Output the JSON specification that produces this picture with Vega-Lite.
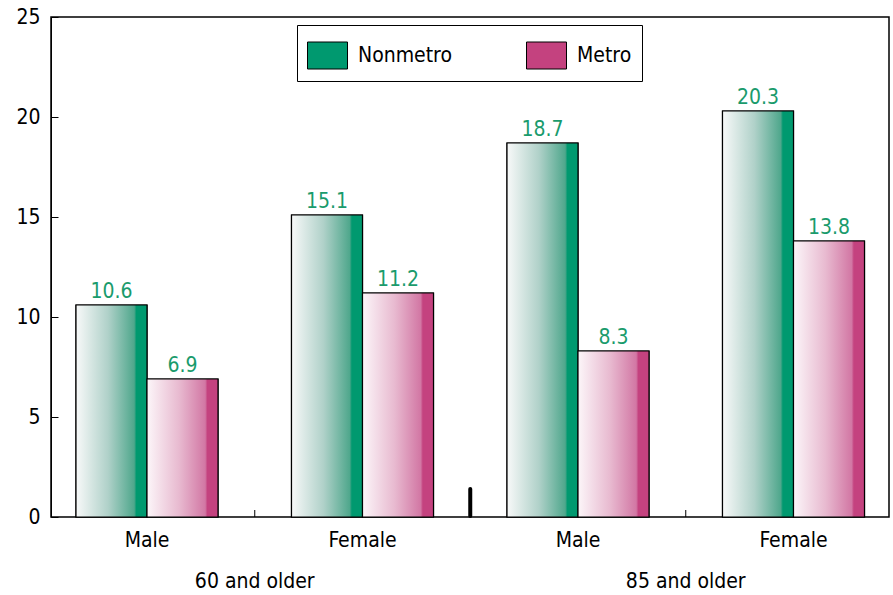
{
  "$schema": "https://vega.github.io/schema/vega-lite/v6.json",
  "width": 838,
  "height": 500,
  "autosize": {"type": "none"},
  "padding": {"left": 51, "top": 17, "right": 4, "bottom": 78},
  "background": "white",
  "config": {
    "font": "DejaVu Sans Condensed",
    "view": {"stroke": "black", "strokeWidth": 1.5},
    "axis": {"labelFont": "DejaVu Sans Condensed", "labelFontSize": 21, "labelColor": "black"}
  },
  "datasets": {
    "rates": [
      {"grp": "60 and older|Male", "series": "Nonmetro", "value": 10.6},
      {"grp": "60 and older|Male", "series": "Metro", "value": 6.9},
      {"grp": "60 and older|Female", "series": "Nonmetro", "value": 15.1},
      {"grp": "60 and older|Female", "series": "Metro", "value": 11.2},
      {"grp": "85 and older|Male", "series": "Nonmetro", "value": 18.7},
      {"grp": "85 and older|Male", "series": "Metro", "value": 8.3},
      {"grp": "85 and older|Female", "series": "Nonmetro", "value": 20.3},
      {"grp": "85 and older|Female", "series": "Metro", "value": 13.8}
    ]
  },
  "encoding": {
    "x": {
      "field": "grp",
      "type": "nominal",
      "scale": {
        "domain": ["60 and older|Male", "60 and older|Female", "85 and older|Male", "85 and older|Female"],
        "range": [-11.75, 850.25],
        "paddingInner": 0,
        "paddingOuter": 0
      },
      "axis": {
        "title": null,
        "domain": false,
        "ticks": false,
        "labelAngle": 0,
        "labelPadding": 12,
        "labelExpr": "split(datum.label, '|')[1]"
      }
    },
    "xOffset": {
      "field": "series",
      "type": "nominal",
      "scale": {"domain": ["Nonmetro", "Metro"], "paddingInner": 0, "paddingOuter": 0.5176}
    }
  },
  "layer": [
    {
      "data": {"name": "rates"},
      "mark": {"type": "bar", "stroke": "black", "strokeWidth": 1.2},
      "encoding": {
        "y": {
          "field": "value",
          "type": "quantitative",
          "scale": {"domain": [0, 25], "nice": false},
          "axis": {
            "title": null,
            "values": [0, 5, 10, 15, 20, 25],
            "grid": false,
            "tickSize": -7,
            "tickColor": "black",
            "domainColor": "black",
            "labelPadding": 18
          }
        },
        "fill": {
          "field": "series",
          "type": "nominal",
          "scale": {"domain": ["Nonmetro", "Metro"], "range": ["#00996f", "#c4427f"]},
          "legend": {
            "title": null,
            "orient": "none",
            "legendX": 246,
            "legendY": 8,
            "direction": "horizontal",
            "strokeColor": "black",
            "padding": 10,
            "columnPadding": 72,
            "symbolType": "M-1,-0.675H1V0.675H-1Z",
            "symbolSize": 1600,
            "symbolStrokeColor": "black",
            "symbolStrokeWidth": 1,
            "symbolOpacity": 1,
            "labelFont": "DejaVu Sans Condensed",
            "labelFontSize": 21,
            "labelColor": "black",
            "labelOffset": 10
          }
        }
      }
    },
    {
      "data": {"name": "rates"},
      "mark": {"type": "bar", "stroke": "black", "strokeWidth": 1.2},
      "encoding": {
        "y": {"field": "value", "type": "quantitative"},
        "fill": {
          "condition": {
            "test": "datum.series === 'Nonmetro'",
            "value": {"gradient": "linear", "x1": 0, "y1": 0, "x2": 1, "y2": 0, "stops": [
              {"offset": 0, "color": "#f8f9f9"},
              {"offset": 0.45, "color": "#b0d1c9"},
              {"offset": 0.82, "color": "#4fa78c"},
              {"offset": 0.85, "color": "#00996f"},
              {"offset": 1, "color": "#00996f"}
            ]}
          },
          "value": {"gradient": "linear", "x1": 0, "y1": 0, "x2": 1, "y2": 0, "stops": [
            {"offset": 0, "color": "#fcf6f9"},
            {"offset": 0.45, "color": "#e8bad0"},
            {"offset": 0.82, "color": "#d277a4"},
            {"offset": 0.85, "color": "#c4427f"},
            {"offset": 1, "color": "#c4427f"}
          ]}
        }
      }
    },
    {
      "data": {"name": "rates"},
      "mark": {"type": "text", "baseline": "bottom", "dy": -3, "fontSize": 21, "color": "#1a9b6c"},
      "encoding": {
        "y": {"field": "value", "type": "quantitative"},
        "text": {"field": "value", "type": "quantitative", "format": ".1f"}
      }
    },
    {
      "data": {"values": [{"grp": "60 and older|Female"}, {"grp": "85 and older|Female"}]},
      "mark": {"type": "rule", "color": "black", "strokeWidth": 1},
      "encoding": {
        "x": {"field": "grp", "type": "nominal", "bandPosition": 0},
        "xOffset": null,
        "y": {"datum": 0},
        "y2": {"datum": 0.35}
      }
    },
    {
      "data": {"values": [{"grp": "85 and older|Male"}]},
      "mark": {"type": "rule", "color": "black", "strokeWidth": 4, "strokeCap": "round"},
      "encoding": {
        "x": {"field": "grp", "type": "nominal", "bandPosition": 0},
        "xOffset": null,
        "y": {"datum": 0.05},
        "y2": {"datum": 1.4}
      }
    },
    {
      "data": {"values": [
        {"grp": "60 and older|Female", "age": "60 and older"},
        {"grp": "85 and older|Female", "age": "85 and older"}
      ]},
      "mark": {"type": "text", "baseline": "middle", "dy": 65, "fontSize": 21, "color": "black"},
      "encoding": {
        "x": {"field": "grp", "type": "nominal", "bandPosition": 0},
        "xOffset": null,
        "y": {"datum": 0},
        "text": {"field": "age"}
      }
    }
  ]
}
